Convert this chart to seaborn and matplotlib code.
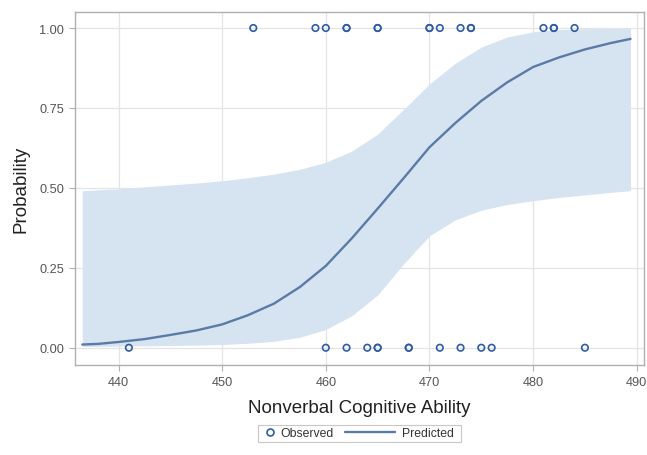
import matplotlib
matplotlib.use("Agg")
import matplotlib.pyplot as plt
import seaborn as sns
import pandas as pd
from matplotlib.lines import Line2D
from matplotlib.patches import Rectangle

# Observed outcomes
obs_x_one = [453, 459, 460, 462, 462, 465, 465, 470, 470, 471, 473, 474, 474, 481, 482, 482, 484]
obs_x_zero = [441, 460, 462, 464, 465, 465, 468, 468, 471, 473, 475, 476, 485]

# Predicted probability curve and confidence band
pred_x = [436.5, 438, 440, 442.5, 445, 447.5, 450, 452.5, 455, 457.5, 460, 462.5,
          465, 467.5, 470, 472.5, 475, 477.5, 480, 482.5, 485, 487.5, 489.4]
pred_y = [0.010, 0.012, 0.018, 0.027, 0.040, 0.054, 0.073, 0.102, 0.138, 0.190, 0.256, 0.342,
          0.435, 0.530, 0.627, 0.703, 0.772, 0.830, 0.878, 0.908, 0.933, 0.953, 0.966]
upper = [0.491, 0.494, 0.497, 0.503, 0.509, 0.515, 0.522, 0.532, 0.543, 0.558, 0.580, 0.615,
         0.668, 0.745, 0.825, 0.890, 0.940, 0.972, 0.988, 0.995, 0.998, 0.999, 1.000]
lower = [0.004, 0.004, 0.005, 0.006, 0.007, 0.008, 0.010, 0.014, 0.020, 0.033, 0.057, 0.100,
         0.165, 0.262, 0.350, 0.400, 0.430, 0.448, 0.460, 0.470, 0.478, 0.486, 0.491]

x_ticks = [440, 450, 460, 470, 480, 490]
y_ticks = [0.00, 0.25, 0.50, 0.75, 1.00]

sns.set_theme(style="whitegrid")
plt.rcParams['font.family'] = ['Liberation Sans', 'DejaVu Sans']

LINE_C = "#5a7ba6"
BAND_C = "#d6e4f1"
MARK_C = "#2f5ca6"
GRID_C = "#e4e4e4"
FRAME_C = "#b0b0b0"
TEXT_C = "#555555"

obs = pd.DataFrame({
    "x": obs_x_one + obs_x_zero,
    "y": [1.0] * len(obs_x_one) + [0.0] * len(obs_x_zero),
})
pred = pd.DataFrame({"x": pred_x, "y": pred_y, "lo": lower, "hi": upper})

W, H = 647, 456
fig = plt.figure(figsize=(W / 100, H / 100), dpi=100)
ax = fig.add_axes([75 / W, 1 - 366 / H, (644 - 75) / W, (366 - 12.7) / H])

ax.fill_between(pred["x"], pred["lo"], pred["hi"], color=BAND_C, linewidth=0, zorder=1)
sns.lineplot(data=pred, x="x", y="y", ax=ax, color=LINE_C, linewidth=1.7, zorder=3,
             legend=False)
sns.scatterplot(data=obs, x="x", y="y", ax=ax, marker="o", s=22, facecolors="none",
                edgecolor=MARK_C, linewidth=1.2, zorder=4, legend=False)

ax.set_xlim(435.8, 490.7)
ax.set_ylim(-0.054, 1.051)
ax.set_xticks(x_ticks)
ax.set_yticks(y_ticks)
ax.set_yticklabels([f"{v:.2f}" for v in y_ticks])

ax.grid(True, color=GRID_C, linewidth=0.9)
ax.set_axisbelow(True)
for sp in ax.spines.values():
    sp.set_visible(True)
    sp.set_color(FRAME_C)
    sp.set_linewidth(1.0)

ax.tick_params(axis="both", which="major", length=4, width=0.8, color=FRAME_C,
               labelsize=9.2, labelcolor=TEXT_C, pad=4, direction="out",
               bottom=True, left=True)

ax.set_xlabel("Nonverbal Cognitive Ability", fontsize=13.5, color="#222222", labelpad=8)
ax.set_ylabel("Probability", fontsize=13.5, color="#222222", labelpad=7)

# Legend: two adjacent legends inside one frame
ly = 1 - 434.5 / H
obs_handle = Line2D([], [], marker="o", linestyle="none", markerfacecolor="none",
                    markeredgecolor=MARK_C, markeredgewidth=1.2, markersize=5,
                    label="Observed")
pred_handle = Line2D([], [], color=LINE_C, linewidth=1.7, label="Predicted")
leg1 = fig.legend(handles=[obs_handle], loc="center left", bbox_to_anchor=(266 / W, ly),
                  frameon=False, fontsize=8.8, handlelength=0.6, handletextpad=0.6,
                  borderpad=0, borderaxespad=0)
leg2 = fig.legend(handles=[pred_handle], loc="center left", bbox_to_anchor=(345 / W, ly),
                  frameon=False, fontsize=8.8, handlelength=4.1, handletextpad=0.55,
                  borderpad=0, borderaxespad=0)
for lg in (leg1, leg2):
    for t in lg.get_texts():
        t.set_color("#333333")
fig.add_artist(Rectangle((258 / W, 1 - 443.3 / H), (461 - 258) / W, (443.3 - 426) / H,
                         transform=fig.transFigure, fill=False, edgecolor="#c8c8c8",
                         linewidth=0.8))

fig.savefig("out.png", dpi=100)
